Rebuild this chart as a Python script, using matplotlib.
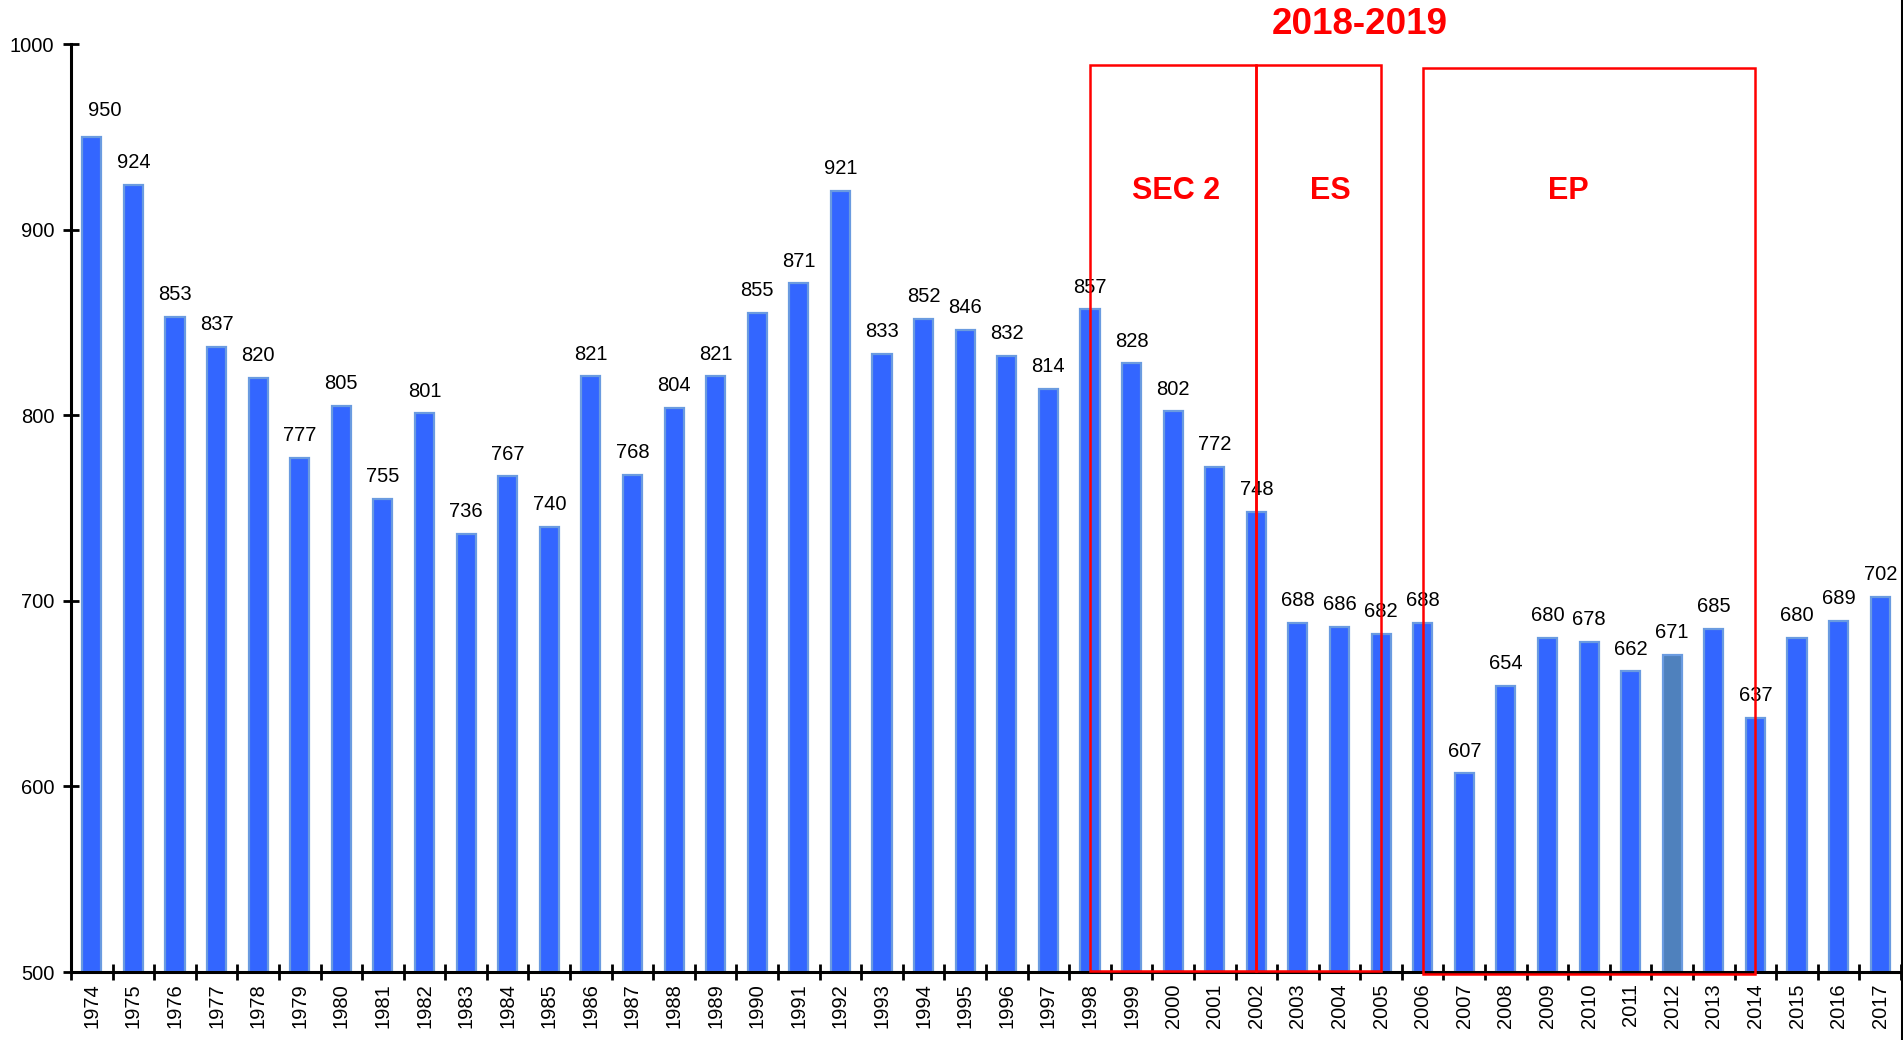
import matplotlib.pyplot as plt
from matplotlib.patches import Rectangle
from matplotlib.lines import Line2D

plt.rcParams['font.family'] = ['Liberation Sans', 'DejaVu Sans']

years = [str(y) for y in range(1974, 2018)]
values = [950, 924, 853, 837, 820, 777, 805, 755, 801, 736, 767, 740, 821, 768,
          804, 821, 855, 871, 921, 833, 852, 846, 832, 814, 857, 828, 802, 772,
          748, 688, 686, 682, 688, 607, 654, 680, 678, 662, 671, 685, 637, 680,
          689, 702]
highlight_year = '2012'

# boxes: (first year, last year, label)
boxes = [('1998', '2002', 'SEC 2'), ('2002', '2005', 'ES'), ('2006', '2014', 'EP')]
header = '2018-2019'

fig = plt.figure(figsize=(19.03, 10.40), dpi=100)
ax = fig.add_axes([71 / 1903, 68 / 1040, 1830 / 1903, 928 / 1040])

x = list(range(len(years)))
colors = ['#4F81BD' if y == highlight_year else '#3366FF' for y in years]
ax.bar(x, [v - 500 for v in values], bottom=500, width=0.46, color=colors,
       edgecolor='#6A9BE0', linewidth=1.6, zorder=2)

for i, v in enumerate(values):
    dx, dy = (9, 19) if i == 0 else (0, 16)
    ax.annotate(str(v), (i, v), xytext=(dx, dy), textcoords='offset points',
                ha='center', va='center', fontsize=14.5)

ax.set_xlim(-0.5, len(years) - 0.5)
ax.set_ylim(500, 1000)
ax.set_yticks(range(500, 1001, 100))
ax.set_xticks([i + 0.5 for i in range(-1, len(years))], minor=False)
ax.set_xticklabels([])
ax.set_xticks(x, minor=True)
ax.set_xticklabels(years, minor=True, rotation=90, fontsize=14.5)
ax.tick_params(axis='x', which='minor', length=0, pad=8)
ax.tick_params(axis='x', which='major', direction='inout', length=12, width=2)
ax.tick_params(axis='y', direction='inout', length=12, width=2, labelsize=14.5, pad=6)

for s in ['top', 'right']:
    ax.spines[s].set_visible(False)
for s in ['left', 'bottom']:
    ax.spines[s].set_linewidth(2.2)

# red boxes
idx = {y: i for i, y in enumerate(years)}
tops = [988.7, 988.7, 987]
bottoms = [500.5, 500.5, 499]
label_x = [26.06, 29.77, 35.51]
for (a, b, lab), t, bt, lx in zip(boxes, tops, bottoms, label_x):
    x0, x1 = idx[a], idx[b]
    ax.add_patch(Rectangle((x0, bt), x1 - x0, t - bt, fill=False, edgecolor='red',
                           linewidth=1.8, clip_on=False, zorder=3))
    ax.text(lx, 921, lab, color='red', fontsize=22, fontweight='bold',
            ha='center', va='center')

ax.text(30.49, 1010.7, header, color='red', fontsize=26.5, fontweight='bold',
        ha='center', va='center', clip_on=False)

fig.add_artist(Line2D([1901.5 / 1903, 1901.5 / 1903], [0, 1], color='black', linewidth=2.2))

fig.savefig('out.png', dpi=100)
